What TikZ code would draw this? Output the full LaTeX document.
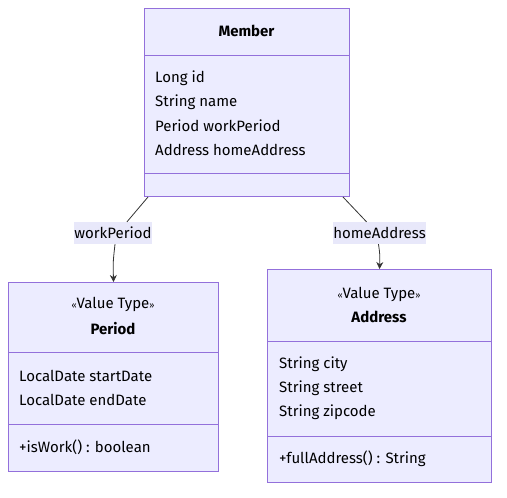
\documentclass[tikz,border=0pt]{standalone}
\usepackage{fontspec}
\setmainfont{Fira Sans}
\usepackage{xcolor}
\usetikzlibrary{arrows.meta,positioning}
\definecolor{umlfill}{HTML}{ECECFF}
\definecolor{umlborder}{HTML}{9370DB}
\definecolor{umlline}{HTML}{333333}
\definecolor{lblfill}{HTML}{E8E8FA}
\newcommand{\umlfont}{\fontsize{15}{18}\selectfont}
\tikzset{
  classbox/.style={draw=umlborder, fill=umlfill, line width=1.1pt, inner sep=0pt, anchor=north west},
  divider/.style={draw=umlborder, line width=0.9pt},
  member/.style={anchor=west, inner sep=0pt},
  title/.style={inner sep=0pt, font=\umlfont\bfseries},
  edgelabel/.style={fill=lblfill, inner xsep=0pt, inner ysep=0pt, minimum height=22pt},
  link/.style={draw=umlline, line width=0.8pt},
}
\begin{document}
\begin{tikzpicture}[x=1pt, y=-1pt, every node/.style={font=\umlfont}]
      \useasboundingbox (0,0) rectangle (507,498);
      % Member class
      \node[classbox, minimum width=205pt, minimum height=188pt] (member) at (144,8) {};
      \draw[divider] (144,55) -- (349,55);
      \draw[divider] (144,173) -- (349,173);
      \node[title] (memberTitle) at (246.5,31) {Member};
      \node[member] (memberId) at (155,78) {Long id};
      \node[member] (memberName) at (155,102) {String name};
      \node[member] (memberWork) at (155,126) {Period workPeriod};
      \node[member] (memberHome) at (155,150) {Address homeAddress};
      % Period class
      \node[classbox, minimum width=210pt, minimum height=189pt] (period) at (8,282) {};
      \draw[divider] (8,352) -- (218,352);
      \draw[divider] (8,424) -- (218,424);
      \node[inner sep=0pt] (periodType) at (113,304) {{\small«}Value Type{\small»}};
      \node[title] (periodTitle) at (113,329) {Period};
      \node[member] (periodStart) at (19,376) {LocalDate startDate};
      \node[member] (periodEnd) at (19,400) {LocalDate endDate};
      \node[member] (periodWork) at (19,447) {+isWork() : boolean};
      % Address class
      \node[classbox, minimum width=224pt, minimum height=213pt] (address) at (267,269) {};
      \draw[divider] (267,341) -- (491,341);
      \draw[divider] (267,436) -- (491,436);
      \node[inner sep=0pt] (addressType) at (379,294) {{\small«}Value Type{\small»}};
      \node[title] (addressTitle) at (379,317) {Address};
      \node[member] (addressCity) at (279,364) {String city};
      \node[member] (addressStreet) at (279,388) {String street};
      \node[member] (addressZip) at (279,412) {String zipcode};
      \node[member] (addressFull) at (279,459) {+fullAddress() : String};
      % associations
      \node[edgelabel] (wpLabel) at (113,233) {workPeriod};
      \node[edgelabel] (haLabel) at (379.5,233) {homeAddress};
      \coordinate (wpStart) at (148,197);
      \coordinate (haStart) at (343,197);
      \draw[link] (wpStart) -- ([xshift=14pt]wpLabel.north);
      \draw[link, -{Stealth[length=7pt, width=7pt]}] ([xshift=2pt]wpLabel.south)
        .. controls (113,262) .. (period.north);
      \draw[link] (haStart) -- ([xshift=-13pt]haLabel.north);
      \draw[link, -{Stealth[length=7pt, width=7pt]}] ([xshift=-1pt]haLabel.south)
        .. controls (380,255) .. (address.north);
    \end{tikzpicture}
\end{document}
